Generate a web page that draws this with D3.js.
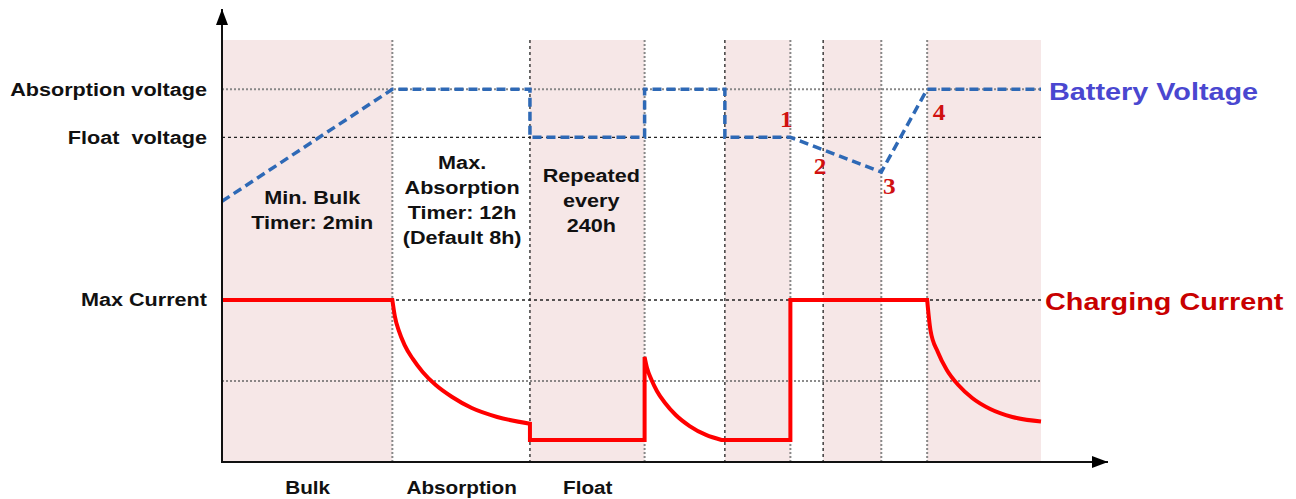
<!DOCTYPE html>
<html>
<head>
<meta charset="utf-8">
<script src="https://cdn.jsdelivr.net/npm/d3@7"></script>
<style>
  body { margin: 0; background: #fff; }
  svg { display: block; }
  text { font-family: 'Liberation Sans', Arial, sans-serif; font-weight: bold; }
</style>
</head>
<body>
<div id="wrapper"></div>
<script>
// time runs 0..100 (arbitrary units) across the plot
const stageEdges = [0, 20.8, 37.6, 51.6, 61.4, 69.4, 73.4, 80.5, 86.1, 100]
const shadedBands = [[0, 20.8], [37.6, 51.6], [61.4, 69.4], [73.4, 80.5], [86.1, 100]]
const stageNames = ['Bulk', 'Absorption', 'Float']

// voltage levels (V) and their tick labels
const voltageTicks = [14.4, 13.5]
const voltageTickLabels = ['Absorption voltage', 'Float  voltage']

// current in % of max current
const currentTicks = [100]
const currentTickLabels = ['Max Current']
const currentGrid = [100, 50]

// battery voltage, [time, volts]
const batteryVoltage = [
  [0, 12.3], [20.8, 14.4], [37.6, 14.4], [37.6, 13.5], [51.6, 13.5],
  [51.6, 14.4], [61.4, 14.4], [61.4, 13.5], [69.4, 13.5], [80.5, 12.85],
  [86.1, 14.4], [100, 14.4]
]

// charging current pieces, [time, % of max]
const bulkCurrent = [[0, 100], [20.8, 100]]
const absorptionCurrent = [
  [20.8, 100], [21.1, 90.1], [21.6, 80.9], [22.3, 72.2], [23.3, 63.6],
  [24.5, 55.6], [26.1, 47.5], [28.1, 40.1], [30.5, 33.3], [33.6, 27.8],
  [37.6, 23.6]
]
const floatCurrent = [[37.6, 23.6], [37.6, 13.6], [51.6, 13.6], [51.6, 64.8]]
const recoveryCurrent = [
  [51.6, 64.8], [51.9, 58.0], [52.4, 51.2], [53.1, 43.8], [54.1, 36.4],
  [55.4, 29.0], [57.1, 22.2], [59.1, 16.7], [61.0, 13.6]
]
const idleCurrent = [[61.0, 13.6], [69.4, 13.6], [69.4, 100], [86.1, 100]]
const rechargeCurrent = [
  [86.1, 100], [86.5, 81.5], [87.4, 67.9], [88.5, 56.8], [89.9, 47.5],
  [91.6, 39.5], [93.8, 32.7], [96.5, 27.8], [100, 25.0]
]

// numbered points on the voltage curve, [label, time, volts]
const eventPoints = [['1', 69.4, 13.5], ['2', 73.4, 13.26], ['3', 80.5, 12.85], ['4', 86.1, 14.4]]

const stageNotes = [
  ['Min. Bulk', 'Timer: 2min'],
  ['Max.', 'Absorption', 'Timer: 12h', '(Default 8h)'],
  ['Repeated', 'every', '240h']
]

// ---- layout ----
const width = 1296
const height = 499
const plot = { left: 222, right: 1041, top: 40, bottom: 462 }
const arrowX = 1108
const arrowY = 9
const stretchK = 1.2   // the original text is drawn wide
const eventOffsets = [[-4, 18], [-3, -16], [8, -14], [12, -23]]
const noteFirstY = [198, 163, 176]
const noteDx = [5, 1, 4]
const noteLine = 25
const verticalColours = ['#888', '#888', '#222', '#888', '#222', '#888', '#222', '#888', '#888']

const svg = d3.select('#wrapper')
  .append('svg')
  .attr('width', width)
  .attr('height', height)

const xScale = d3.scaleLinear().domain([0, 100]).range([plot.left, plot.right])
const vScale = d3.scaleLinear().domain([13.5, 14.4]).range([137.3, 89.3])
const iScale = d3.scaleLinear().domain([0, 100]).range([plot.bottom, 300])

function stretch(sel, k) {
  sel.each(function () {
    const w = this.getComputedTextLength()
    d3.select(this).attr('textLength', w * k).attr('lengthAdjust', 'spacingAndGlyphs')
  })
}

// shaded stages
svg.append('g')
  .selectAll('rect')
  .data(shadedBands)
  .join('rect')
  .attr('x', (d) => xScale(d[0]))
  .attr('width', (d) => xScale(d[1]) - xScale(d[0]))
  .attr('y', plot.top)
  .attr('height', plot.bottom - plot.top)
  .attr('fill', '#f6e7e7')

// horizontal grid lines
const hGrid = [
  { y: vScale(voltageTicks[0]), c: '#888', w: 2, dash: '2,2' },
  { y: vScale(voltageTicks[1]), c: '#222', w: 1.3, dash: '3,3' },
  { y: iScale(currentGrid[0]), c: '#222', w: 1.3, dash: '3,3' },
  { y: iScale(currentGrid[1]), c: '#666', w: 1.6, dash: '2,2' }
]
svg.append('g')
  .selectAll('line')
  .data(hGrid)
  .join('line')
  .attr('x1', plot.left)
  .attr('x2', plot.right)
  .attr('y1', (d) => d.y)
  .attr('y2', (d) => d.y)
  .attr('stroke', (d) => d.c)
  .attr('stroke-width', (d) => d.w)
  .attr('stroke-dasharray', (d) => d.dash)

// vertical stage lines
svg.append('g')
  .selectAll('line')
  .data(stageEdges.slice(1))
  .join('line')
  .attr('x1', (d) => xScale(d))
  .attr('x2', (d) => xScale(d))
  .attr('y1', plot.top)
  .attr('y2', plot.bottom)
  .attr('stroke', (d, i) => verticalColours[i + 1])
  .attr('stroke-width', (d, i) => (verticalColours[i + 1] === '#222' ? 1.3 : 2))
  .attr('stroke-dasharray', (d, i) => (verticalColours[i + 1] === '#222' ? '3,3' : '2,2'))

// charging current: pieces joined into one path
const straight = d3.line().x((d) => xScale(d[0])).y((d) => iScale(d[1]))
const smooth = d3.line().x((d) => xScale(d[0])).y((d) => iScale(d[1])).curve(d3.curveMonotoneX)
const pieces = [
  straight(bulkCurrent),
  smooth(absorptionCurrent),
  straight(floatCurrent),
  smooth(recoveryCurrent),
  straight(idleCurrent),
  smooth(rechargeCurrent)
]
const currentPath = pieces.map((p, i) => (i === 0 ? p : p.replace(/^M/, 'L'))).join('')
svg.append('path')
  .attr('d', currentPath)
  .attr('fill', 'none')
  .attr('stroke', '#ff0000')
  .attr('stroke-width', 4)
  .attr('stroke-linejoin', 'miter')

// battery voltage
svg.append('path')
  .datum(batteryVoltage)
  .attr('d', d3.line().x((d) => xScale(d[0])).y((d) => vScale(d[1])))
  .attr('fill', 'none')
  .attr('stroke', '#2e69b6')
  .attr('stroke-width', 3.5)
  .attr('stroke-dasharray', '9,5')

// arrows for the axes
const defs = svg.append('defs')
defs.append('marker')
  .attr('id', 'arrow')
  .attr('viewBox', '0 0 16 12')
  .attr('refX', 16)
  .attr('refY', 6)
  .attr('markerUnits', 'userSpaceOnUse')
  .attr('markerWidth', 16)
  .attr('markerHeight', 12)
  .attr('orient', 'auto')
  .append('path')
  .attr('d', 'M0,0L16,6L0,12Z')
  .attr('fill', '#000')

svg.append('line')
  .attr('x1', plot.left).attr('y1', plot.bottom)
  .attr('x2', arrowX).attr('y2', plot.bottom)
  .attr('stroke', '#111').attr('stroke-width', 2)
  .attr('marker-end', 'url(#arrow)')
svg.append('line')
  .attr('x1', plot.left).attr('y1', plot.bottom + 1)
  .attr('x2', plot.left).attr('y2', arrowY)
  .attr('stroke', '#111').attr('stroke-width', 2)
  .attr('marker-end', 'url(#arrow)')

// left axis labels
const styleAxis = (g) => {
  g.select('.domain').remove()
  g.attr('font-size', 18).attr('font-family', null)
  g.selectAll('text').attr('fill', '#111').style('white-space', 'pre')
}
const voltAxis = svg.append('g')
  .attr('transform', `translate(${plot.left},0)`)
  .call(d3.axisLeft(vScale).tickValues(voltageTicks)
    .tickFormat((d, i) => voltageTickLabels[i]).tickSize(0).tickPadding(15))
  .call(styleAxis)
stretch(voltAxis.selectAll('text'), stretchK)

const currAxis = svg.append('g')
  .attr('transform', `translate(${plot.left},0)`)
  .call(d3.axisLeft(iScale).tickValues(currentTicks)
    .tickFormat((d, i) => currentTickLabels[i]).tickSize(0).tickPadding(15))
  .call(styleAxis)
stretch(currAxis.selectAll('text'), stretchK)

// stage names under the x axis
const stageCenters = stageNames.map((d, i) => (stageEdges[i] + stageEdges[i + 1]) / 2)
const stageAxis = svg.append('g')
  .attr('transform', `translate(0,${plot.bottom})`)
  .call(d3.axisBottom(xScale).tickValues(stageCenters)
    .tickFormat((d, i) => stageNames[i]).tickSize(0).tickPadding(19))
  .call(styleAxis)
stretch(stageAxis.selectAll('text'), 1.15)

// notes inside the stages
stageNotes.forEach((lines, s) => {
  const cx = xScale(stageCenters[s]) + noteDx[s]
  const t = svg.append('g')
    .selectAll('text')
    .data(lines)
    .join('text')
    .attr('x', cx)
    .attr('y', (d, i) => noteFirstY[s] + i * noteLine)
    .attr('dy', '0.35em')
    .attr('text-anchor', 'middle')
    .attr('font-size', 18)
    .attr('fill', '#111')
    .text((d) => d)
  stretch(t, stretchK)
})

// numbered events
const nums = svg.append('g')
  .selectAll('text')
  .data(eventPoints)
  .join('text')
  .attr('x', (d, i) => xScale(d[1]) + eventOffsets[i][0])
  .attr('y', (d, i) => vScale(d[2]) - eventOffsets[i][1])
  .attr('dy', '0.35em')
  .attr('text-anchor', 'middle')
  .attr('font-size', 23)
  .style('font-family', "'Liberation Serif', 'Times New Roman', serif")
  .style('font-weight', 'bold')
  .attr('fill', '#d01010')
  .text((d) => d[0])
stretch(nums, 1.1)

// series names on the right
const seriesLabels = svg.append('g')
seriesLabels.append('text')
  .attr('x', xScale(100) + 8)
  .attr('y', vScale(14.4) + 2)
  .attr('dy', '0.35em')
  .attr('font-size', 24)
  .attr('fill', '#4a47d0')
  .text('Battery Voltage')
seriesLabels.append('text')
  .attr('x', xScale(100) + 4)
  .attr('y', iScale(100) + 2)
  .attr('dy', '0.35em')
  .attr('font-size', 24)
  .attr('fill', '#c80000')
  .text('Charging Current')
stretch(seriesLabels.selectAll('text'), stretchK)
</script>
</body>
</html>
